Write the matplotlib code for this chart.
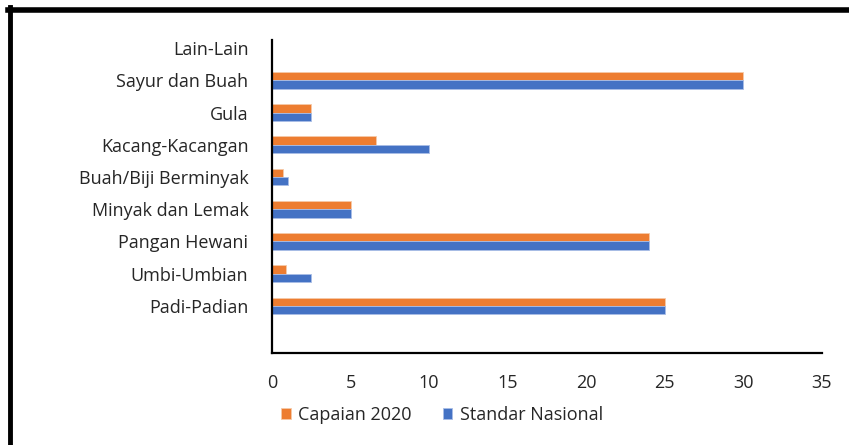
import matplotlib.pyplot as plt
from matplotlib.lines import Line2D
import numpy as np

### DATA ###
categories = ["Padi-Padian", "Umbi-Umbian", "Pangan Hewani", "Minyak dan Lemak",
              "Buah/Biji Berminyak", "Kacang-Kacangan", "Gula", "Sayur dan Buah", "Lain-Lain"]
capaian_2020 = [25, 0.9, 24, 5, 0.7, 6.6, 2.5, 30, 0]
standar_nasional = [25, 2.5, 24, 5, 1.0, 10, 2.5, 30, 0]

orange = "#ED7D31"
blue = "#4472C4"

plt.rcParams['font.family'] = ['Open Sans', 'DejaVu Sans']

fig = plt.figure(figsize=(8.49, 4.45), dpi=100)
ax = fig.add_axes([272 / 849, 1 - 353 / 445, 550 / 849, 313 / 445])

y = np.arange(len(categories))
h = 0.26
ax.barh(y + h / 2, capaian_2020, height=h, color=orange, label="Capaian 2020",
        edgecolor="#f6c9a8", linewidth=0.6)
ax.barh(y - h / 2, standar_nasional, height=h, color=blue, label="Standar Nasional",
        edgecolor="#a9bde6", linewidth=0.6)

ax.set_xlim(0, 35)
ax.set_ylim(-1.46, 8.25)
ax.set_xticks(range(0, 36, 5))
ax.set_yticks(y)
ax.set_yticklabels(categories)
ax.tick_params(axis='both', length=0, labelsize=13, colors="#262626")
ax.tick_params(axis='x', pad=15)
ax.tick_params(axis='y', pad=17)

for s in ["top", "right"]:
    ax.spines[s].set_visible(False)
for s in ["left", "bottom"]:
    ax.spines[s].set_linewidth(1.6)
    ax.spines[s].set_color("black")

### LEGEND ###
fig.legend(loc="center", bbox_to_anchor=(442 / 849, 1 - 415 / 445), ncol=2, frameon=False,
           fontsize=13, handlelength=0.55, handleheight=0.55, handletextpad=0.4,
           columnspacing=1.7, labelcolor="#262626")

### FRAME ###
fig.add_artist(Line2D([8 / 849, 1], [1 - 9.5 / 445, 1 - 9.5 / 445], color="black",
                      linewidth=4, transform=fig.transFigure))
fig.add_artist(Line2D([10 / 849, 10 / 849], [0, 1 - 7 / 445], color="black",
                      linewidth=3.5, transform=fig.transFigure))

fig.savefig("out.png", dpi=100)
